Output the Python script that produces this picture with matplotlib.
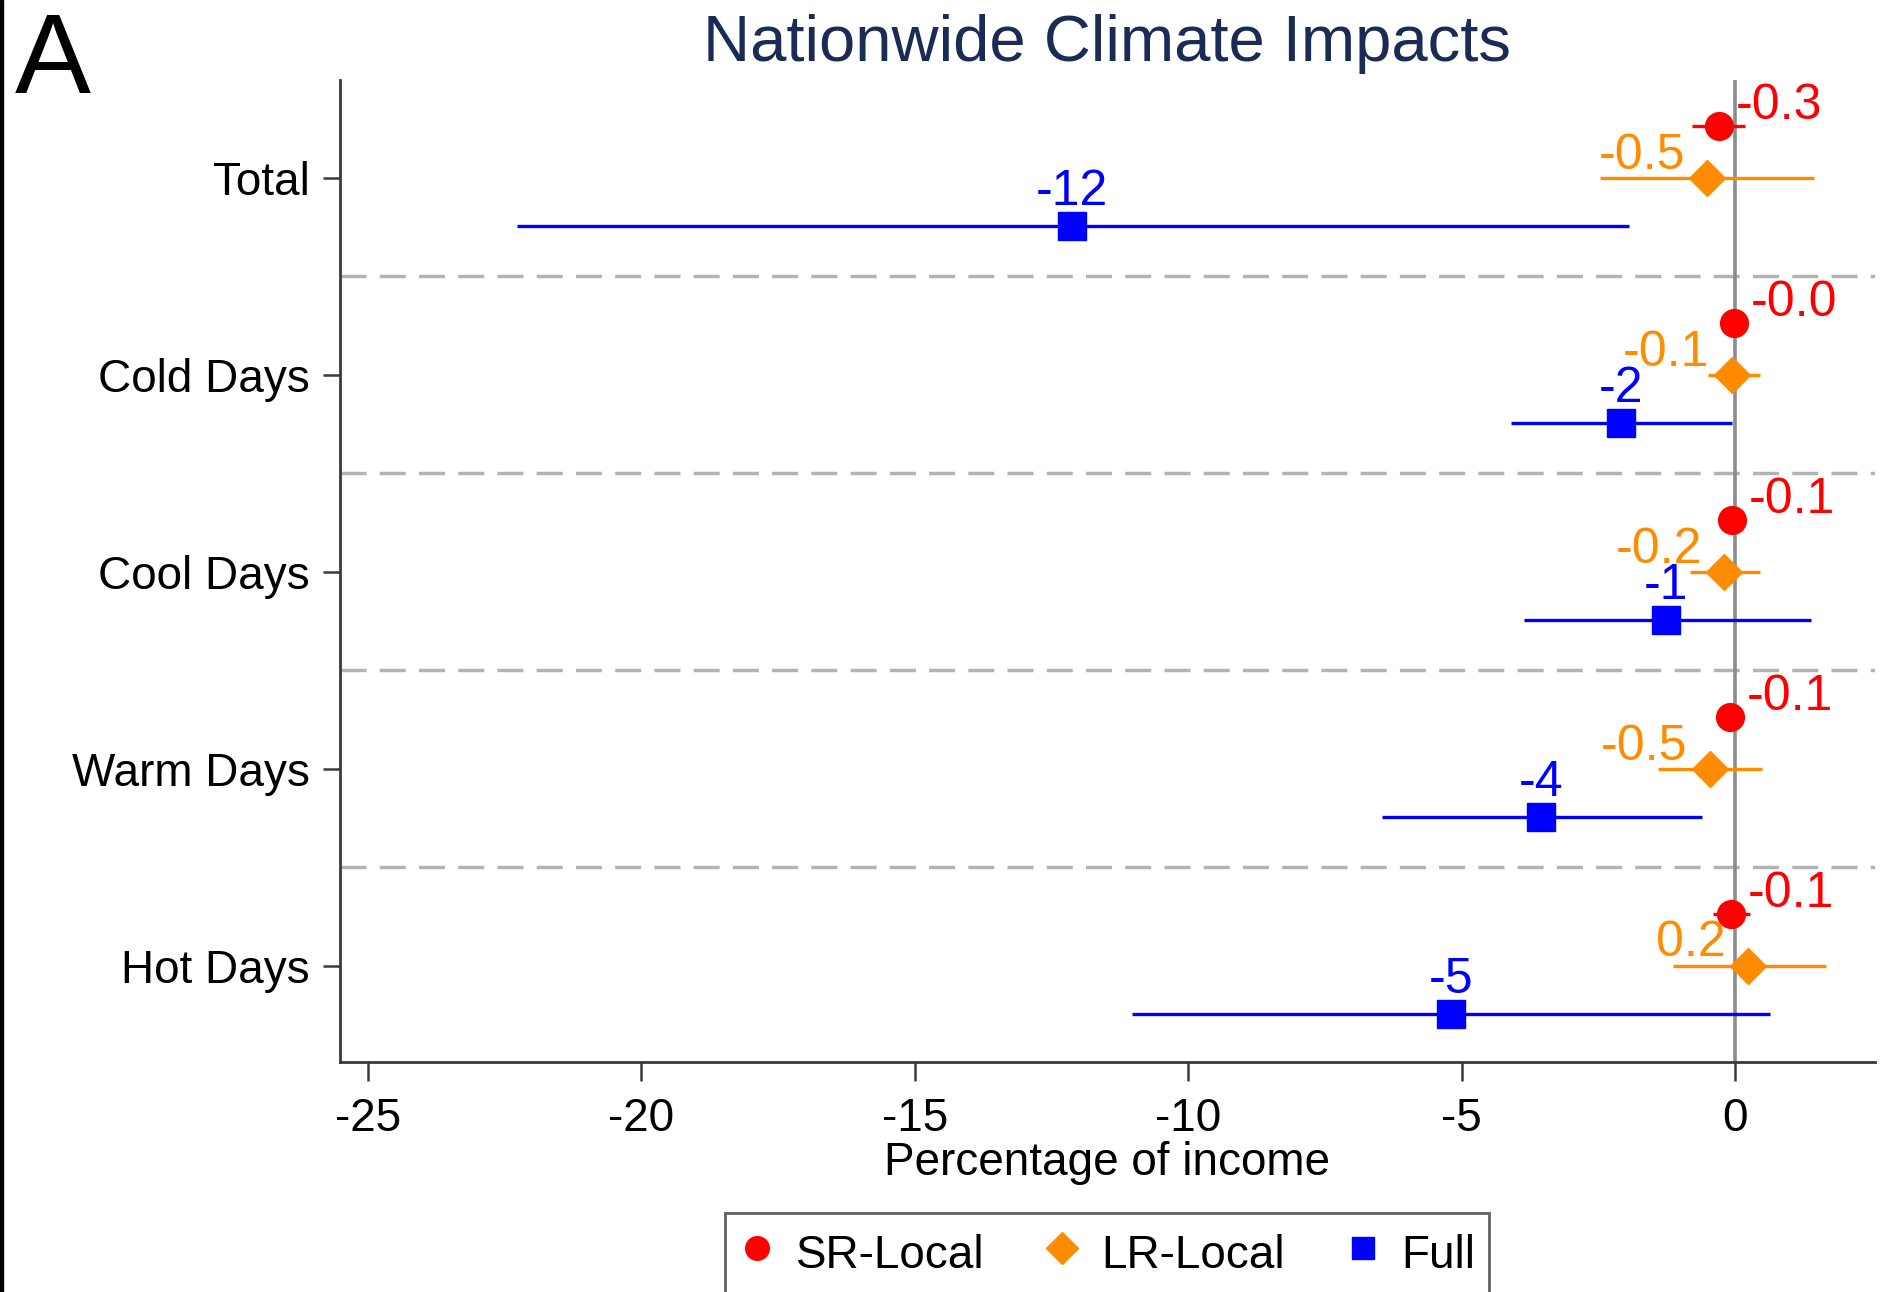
import matplotlib
matplotlib.use("Agg")
import matplotlib.pyplot as plt
from matplotlib.lines import Line2D
from matplotlib.patches import Rectangle
import numpy as np

plt.rcParams['font.family'] = ['Liberation Sans', 'DejaVu Sans']

# Categories, top to bottom
categories = ["Total", "Cold Days", "Cool Days", "Warm Days", "Hot Days"]

# Short-run local estimates (percentage of income) with confidence bounds
sr_est = [-0.29, -0.02, -0.06, -0.09, -0.07]
sr_lo = [-0.79, -0.10, -0.12, -0.15, -0.40]
sr_hi = [0.18, 0.06, 0.00, -0.03, 0.27]

# Long-run local estimates
lr_est = [-0.51, -0.06, -0.20, -0.46, 0.24]
lr_lo = [-2.47, -0.49, -0.82, -1.41, -1.13]
lr_hi = [1.44, 0.46, 0.46, 0.49, 1.66]

# Full-model estimates
full_est = [-12.12, -2.08, -1.26, -3.55, -5.19]
full_lo = [-22.28, -4.10, -3.86, -6.45, -11.02]
full_hi = [-1.94, -0.05, 1.39, -0.60, 0.64]

x_ticks = [-25, -20, -15, -10, -5, 0]

series_names = ["SR-Local", "LR-Local", "Full"]

RED = "#ff0000"
ORANGE = "#ff8c00"
BLUE = "#0000ff"

fig = plt.figure(figsize=(18.93, 12.92), dpi=100)
ax = fig.add_axes([0.1796, 0.178, 0.8109, 0.760])

base = np.arange(len(categories))
y_sr = base - 0.26
y_lr = base
y_full = base + 0.245

# separators between category groups
for b in base[:-1]:
    ax.axhline(b + 0.5, color="#b3b3b3", lw=2.5, linestyle=(0, (7.5, 3.8)), zorder=1)

# zero reference line
ax.axvline(0, color="#8c8c8c", lw=2.6, zorder=1)

# confidence intervals
ax.hlines(y_sr, sr_lo, sr_hi, color=RED, lw=2.4, zorder=2)
ax.hlines(y_lr, lr_lo, lr_hi, color=ORANGE, lw=2.4, zorder=2)
ax.hlines(y_full, full_lo, full_hi, color=BLUE, lw=2.4, zorder=2)

# point estimates
ax.plot(sr_est, y_sr, "o", color=RED, ms=20, mec=RED, zorder=3, ls="none")
ax.plot(lr_est, y_lr, "D", color=ORANGE, ms=18.5, mec=ORANGE, zorder=3, ls="none")
ax.plot(full_est, y_full, "s", color=BLUE, ms=20, mec=BLUE, zorder=3, ls="none")

lab_fs = 36
for v, y in zip(sr_est, y_sr):
    ax.annotate(f"{v:.1f}", (v, y), xytext=(12, 5), textcoords="offset points",
                ha="left", va="baseline", color=RED, fontsize=lab_fs, zorder=4)
for v, y in zip(lr_est, y_lr):
    ax.annotate(f"{v:.1f}", (v, y), xytext=(-16, 6.5), textcoords="offset points",
                ha="right", va="baseline", color=ORANGE, fontsize=lab_fs, zorder=4)
for v, y in zip(full_est, y_full):
    ax.annotate(f"{v:.0f}", (v, y), xytext=(0, 15), textcoords="offset points",
                ha="center", va="baseline", color=BLUE, fontsize=lab_fs, zorder=4)

ax.set_xlim(-25.51, 2.56)
ax.set_ylim(4.49, -0.495)
ax.set_xticks(x_ticks)
ax.set_xticklabels([str(t) for t in x_ticks])
ax.set_yticks(base)
ax.set_yticklabels(categories)

for side in ("top", "right"):
    ax.spines[side].set_visible(False)
for side in ("left", "bottom"):
    ax.spines[side].set_color("#3a3a3a")
    ax.spines[side].set_linewidth(2.0)

ax.tick_params(axis="both", which="major", labelsize=33, color="#3a3a3a",
               width=1.8, direction="out")
ax.tick_params(axis="y", length=12, pad=10)
ax.tick_params(axis="x", length=14, pad=11)

ax.set_xlabel("Percentage of income", fontsize=33, labelpad=0)
ax.set_title("Nationwide Climate Impacts", fontsize=47, color="#1c2b55", pad=14)

fig.text(15 / 1893, 1 - 93 / 1292, "A", fontsize=82, color="black",
         ha="left", va="baseline")

# legend with marker-only handles; tall rows so the box runs past the canvas
handles = [
    Line2D([], [], marker="o", color=RED, ls="none", ms=17),
    Line2D([], [], marker="D", color=ORANGE, ls="none", ms=16),
    Line2D([], [], marker="s", color=BLUE, ls="none", ms=16),
]
leg = fig.legend(handles, series_names, loc="upper center",
                 bbox_to_anchor=(1107 / 1893, 1 - 1213 / 1292), ncol=3,
                 fontsize=33, frameon=True, fancybox=False,
                 handlelength=0.8, handleheight=1.4, handletextpad=0.45,
                 columnspacing=1.3, borderpad=0.3, borderaxespad=0)
leg.get_frame().set_edgecolor("#3a3a3a")
leg.get_frame().set_linewidth(2.0)

# thin dark edge along the left side of the canvas
fig.patches.append(Rectangle((0, 0), 3 / 1893, 1, transform=fig.transFigure,
                             color="black", zorder=10))

fig.savefig("out.png", dpi=100)
